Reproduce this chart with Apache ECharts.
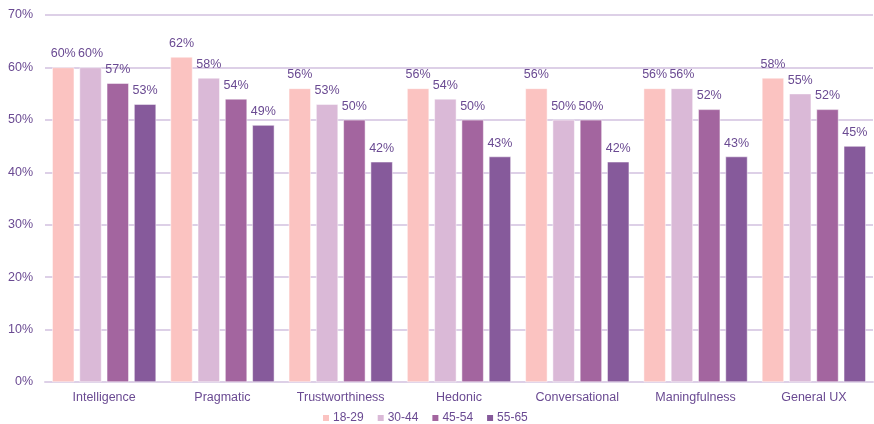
<!DOCTYPE html>
<html>
<head>
<meta charset="utf-8">
<script src="https://cdn.jsdelivr.net/npm/echarts@6/dist/echarts.min.js"></script>
<style>
  html, body { margin: 0; padding: 0; background: #ffffff; }
  #chart { width: 874px; height: 424px; }
</style>
</head>
<body>
<div id="chart"></div>
<script>
// Dimensions of the experience, one group of bars each
const categories = ['Intelligence', 'Pragmatic', 'Trustworthiness', 'Hedonic', 'Conversational', 'Maningfulness', 'General UX'];

// Share of respondents per age group (percent)
const age18to29 = [60, 62, 56, 56, 56, 56, 58];
const age30to44 = [60, 58, 53, 54, 50, 56, 55];
const age45to54 = [57, 54, 50, 50, 50, 52, 52];
const age55to65 = [53, 49, 42, 43, 42, 43, 45];

const seriesNames = ['18-29', '30-44', '45-54', '55-65'];
const seriesColors = ['#FBC3C1', '#DAB9D7', '#A3659F', '#865A9B'];
const seriesData = [age18to29, age30to44, age45to54, age55to65];

const textColor = '#6A4A92';
const gridColor = '#DDD0E7';
const font = 'Liberation Sans, Arial, Helvetica, sans-serif';

const chart = echarts.init(document.getElementById('chart'), null, { renderer: 'canvas' });

chart.setOption({
  animation: false,
  backgroundColor: '#ffffff',
  grid: { left: 45, right: 1, top: 15, bottom: 42, containLabel: false },
  legend: {
    data: seriesNames,
    left: 316,
    top: 407,
    itemWidth: 8,
    itemHeight: 8,
    itemGap: 12,
    icon: 'rect',
    textStyle: { color: textColor, fontSize: 12, fontFamily: font, padding: [0, 0, 0, -2] }
  },
  xAxis: {
    type: 'category',
    data: categories,
    axisTick: { show: false },
    axisLine: { show: true, lineStyle: { color: gridColor, width: 2 } },
    axisLabel: { color: textColor, fontSize: 12.5, fontFamily: font, margin: 9 }
  },
  yAxis: {
    type: 'value',
    min: 0,
    max: 70,
    interval: 10,
    axisLine: { show: false },
    axisTick: { show: false },
    axisLabel: { formatter: '{value}%', color: textColor, fontSize: 12.5, fontFamily: font, margin: 12 },
    splitLine: { lineStyle: { color: gridColor, width: 2 } }
  },
  series: seriesData.map((values, i) => ({
    name: seriesNames[i],
    type: 'bar',
    data: values,
    barWidth: 22,
    barGap: '24%',
    itemStyle: { color: seriesColors[i], borderColor: '#ffffff', borderWidth: 0.5 },
    label: {
      show: true,
      position: 'top',
      distance: 7,
      formatter: '{c}%',
      color: textColor,
      fontSize: 12.5,
      fontFamily: font
    }
  }))
});
</script>
</body>
</html>
